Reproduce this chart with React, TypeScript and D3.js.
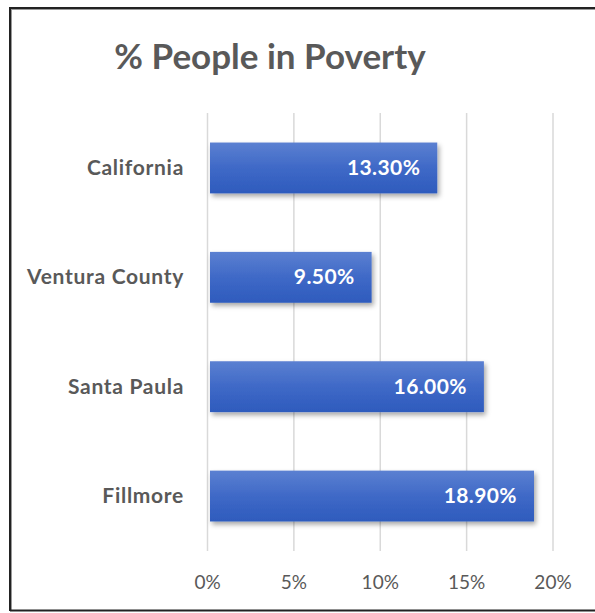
import React from "react";
import * as d3 from "d3";

const categories = ["California", "Ventura County", "Santa Paula", "Fillmore"];
const values = [13.3, 9.5, 16.0, 18.9];
const valueLabels = ["13.30%", "9.50%", "16.00%", "18.90%"];
const ticks = [0, 5, 10, 15, 20];
const title = "% People in Poverty";

const W = 595;
const H = 613;
const FONT = "Lato, 'Open Sans', sans-serif";

export default function App() {
  const x = d3.scaleLinear().domain([0, 20]).range([207.5, 553]);
  const y = d3.scaleBand<string>().domain(categories).range([113, 551]).paddingInner(0.535).paddingOuter(0.27);
  const bw = y.bandwidth();
  return (
    <svg width={W} height={H} style={{ position: "absolute", left: 0, top: 0, background: "#fff" }}>
      <defs>
        <linearGradient id="barGrad" x1="0" y1="0" x2="0" y2="1">
          <stop offset="0" stopColor="#5b80d1" />
          <stop offset="0.5" stopColor="#3f69c7" />
          <stop offset="1" stopColor="#2e5bbd" />
        </linearGradient>
        <filter id="shadow" x="-10%" y="-20%" width="130%" height="160%">
          <feDropShadow dx="2" dy="3" stdDeviation="2.5" floodColor="#000" floodOpacity="0.35" />
        </filter>
      </defs>
      {/* border */}
      <line x1={10} y1={8} x2={W} y2={8} stroke="#222" strokeWidth={2} />
      <line x1={10} y1={9.5} x2={W} y2={9.5} stroke="#999" strokeWidth={1} />
      <line x1={10} y1={7} x2={10} y2={611} stroke="#222" strokeWidth={2} />
      <line x1={11.5} y1={9} x2={11.5} y2={610} stroke="#999" strokeWidth={1} />
      <line x1={10} y1={610.5} x2={W} y2={610.5} stroke="#222" strokeWidth={2} />

      <text x={270} y={69} textAnchor="middle" fontFamily={FONT} fontWeight={700} fontSize={35} fill="#595959">
        {title}
      </text>

      {/* gridlines */}
      {ticks.map((t) => (
        <line key={t} x1={x(t)} x2={x(t)} y1={113} y2={551} stroke="#d9d9d9" strokeWidth={1.5} />
      ))}

      {/* tick labels */}
      {ticks.map((t) => (
        <text key={t} x={x(t)} y={589} textAnchor="middle" fontFamily={FONT} fontSize={19} fill="#595959">
          {t + "%"}
        </text>
      ))}

      {/* bars */}
      {categories.map((c, i) => (
        <rect key={c} x={x(0) + 2.5} y={y(c)!} width={x(values[i]) - x(0) - 2.5} height={bw} fill="url(#barGrad)" filter="url(#shadow)" />
      ))}

      {/* value labels */}
      {categories.map((c, i) => (
        <text key={c} x={x(values[i]) - 17} y={y(c)! + bw / 2 + 7} textAnchor="end" fontFamily={FONT} fontWeight={700} fontSize={21} letterSpacing={0.4} fill="#fff">
          {valueLabels[i]}
        </text>
      ))}

      {/* category labels */}
      {categories.map((c) => {
        const cy = y(c)! + bw / 2;
        return (
          <text key={c} x={184} y={cy + 7} textAnchor="end" fontFamily={FONT} fontWeight={700} fontSize={21} letterSpacing={0.7} fill="#595959">
            {c}
          </text>
        );
      })}
    </svg>
  );
}
